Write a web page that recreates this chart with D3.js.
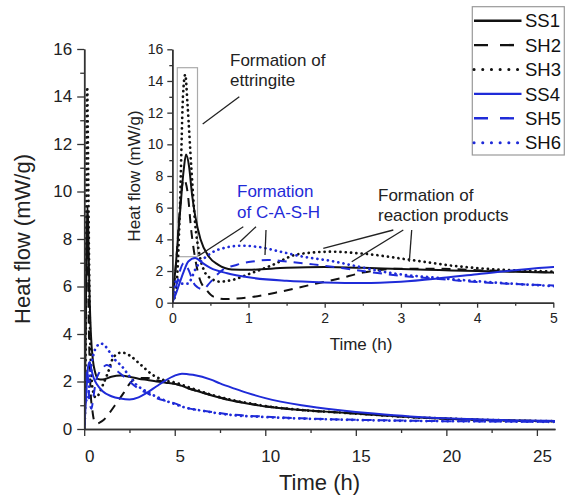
<!DOCTYPE html>
<html><head><meta charset="utf-8">
<script src="https://cdn.jsdelivr.net/npm/d3@7"></script>
<style>
body{margin:0;background:#fff}
svg{display:block}
text{font-family:"Liberation Sans",Arial,sans-serif}
</style>
</head><body>
<svg id="c" width="565" height="495"></svg>
<script>
// ---------- data ----------
const seriesNames  = ["SS1","SH2","SH3","SS4","SH5","SH6"];
const seriesColors = ["#111111","#111111","#111111","#1f2bd8","#1f2bd8","#1f2bd8"];
const seriesStyles = ["solid","dash","dot","solid","dash","dot"];

const ss1Time = [0,0.05,0.1,0.15,0.18,0.22,0.26,0.3,0.37,0.48,0.6,0.78,1.0,1.5,2.0,2.5,3.0,3.5,4.0,4.5,5.0,6,7,8,9,10,12,14,16,18,20,22,24,26];
const ss1Flow = [0,2.6,5.6,8.4,9.35,8.6,6.8,5.5,4.0,2.9,2.4,2.1,2.08,2.2,2.25,2.2,2.12,2.06,2.0,1.95,1.9,1.65,1.42,1.22,1.07,0.95,0.8,0.7,0.6,0.5,0.43,0.38,0.35,0.33];

const sh2Time = [0,0.05,0.1,0.15,0.2,0.25,0.3,0.36,0.45,0.54,0.7,0.85,1.07,1.42,1.81,2.2,2.5,3.0,3.5,4.0,4.5,5.0,6,7,8,9,10,12,14,16,18,20,22,24,26];
const sh2Flow = [0,2.5,6.0,7.8,7.0,4.5,2.8,1.5,0.8,0.38,0.23,0.27,0.38,0.7,1.12,1.54,1.9,2.15,2.15,2.05,1.98,1.9,1.65,1.43,1.23,1.08,0.96,0.8,0.69,0.6,0.5,0.43,0.38,0.35,0.33];

const sh3Time = [0,0.05,0.1,0.14,0.17,0.2,0.25,0.3,0.35,0.42,0.5,0.63,0.8,1.0,1.3,1.64,2.07,2.5,3.1,3.8,4.4,5.0,6,7,8,9,10,12,14,16,18,20,22,24,26];
const sh3Flow = [0,0.8,6.0,13.0,14.4,12.5,8.5,5.0,3.2,2.0,1.55,1.33,1.45,1.8,2.35,3.05,3.22,3.1,2.72,2.27,2.06,1.96,1.7,1.45,1.25,1.1,0.97,0.8,0.7,0.6,0.5,0.44,0.39,0.35,0.33];

const ss4Time = [0,0.05,0.1,0.15,0.21,0.3,0.4,0.5,0.72,1.0,1.5,2.0,2.5,3.0,3.5,4.0,4.5,5.0,5.4,6,7,7.5,8.3,9,10,12,14,15,16,18,20,22,24,26];
const ss4Flow = [0,0.6,1.3,1.96,2.6,2.82,2.5,2.2,1.86,1.6,1.38,1.28,1.24,1.33,1.54,1.8,2.05,2.25,2.33,2.28,2.08,1.92,1.7,1.52,1.3,1.0,0.8,0.72,0.65,0.53,0.45,0.4,0.36,0.34];

const sh5Time = [0,0.05,0.1,0.15,0.2,0.3,0.4,0.5,0.63,0.85,1.05,1.25,1.5,1.85,2.25,2.5,3.0,3.5,4.0,4.5,5.0,5.6,6.5,7.4,8,10,12,15,18,20,22,24,26];
const sh5Flow = [0,1.0,2.0,2.5,2.2,1.1,0.85,1.3,1.96,2.4,2.6,2.7,2.6,2.42,2.17,2.0,1.7,1.5,1.3,1.18,1.08,0.9,0.78,0.68,0.62,0.52,0.45,0.39,0.35,0.33,0.32,0.31,0.3];

const sh6Time = [0,0.06,0.12,0.2,0.32,0.5,0.72,0.91,1.13,1.42,1.72,2.07,2.42,2.9,3.4,3.8,4.4,5.0,5.6,6.5,7.4,8,10,12,15,18,20,22,24,26];
const sh6Flow = [0,1.5,1.2,1.2,2.27,3.1,3.5,3.6,3.52,3.22,2.9,2.65,2.3,1.85,1.6,1.43,1.22,1.05,0.9,0.77,0.66,0.6,0.5,0.44,0.38,0.34,0.33,0.32,0.31,0.3];

const seriesTimes = [ss1Time,sh2Time,sh3Time,ss4Time,sh5Time,sh6Time];
const seriesFlows = [ss1Flow,sh2Flow,sh3Flow,ss4Flow,sh5Flow,sh6Flow];

const mainXTicks = [0,5,10,15,20,25];
const mainXMinor = [2.5,7.5,12.5,17.5,22.5];
const mainYTicks = [0,2,4,6,8,10,12,14,16];
const mainYMinor = [1,3,5,7,9,11,13,15];
const insetXTicks = [0,1,2,3,4,5];
const insetXMinor = [0.5,1.5,2.5,3.5,4.5];
const insetYTicks = [0,2,4,6,8,10,12,14,16];
const insetYMinor = [1,3,5,7,9,11,13,15];

const annotations = [
  {lines:["Formation of","ettringite"], color:"#222", x:230, y:65.7},
  {lines:["Formation","of C-A-S-H"], color:"#1f2bd8", x:237, y:197.3},
  {lines:["Formation of","reaction products"], color:"#222", x:378, y:200.5}
];

// ---------- drawing ----------
const svg = d3.select("#c");
svg.append("rect").attr("width",565).attr("height",495).attr("fill","#fff");

const dashFor = s => s==="dash" ? "9,7" : (s==="dot" ? "0.1,5.2" : null);
const widthFor = s => s==="dot" ? 2.7 : 2;

const defs = svg.append("defs");
defs.append("clipPath").attr("id","mainClip").append("rect").attr("x",84).attr("y",30).attr("width",472).attr("height",400);
defs.append("clipPath").attr("id","insetClip").append("rect").attr("x",172).attr("y",30).attr("width",382).attr("height",273.5);

function drawAxes(g, x, y, opt){
  const ax = g.append("g").attr("transform",`translate(0,${y.range()[0]})`);
  ax.call(d3.axisBottom(x).tickValues(opt.xTicks).tickSize(opt.major).tickSizeOuter(0).tickPadding(opt.xPad).tickFormat(d3.format("d")));
  ax.append("g").call(d3.axisBottom(x).tickValues(opt.xMinor).tickSize(opt.minor).tickSizeOuter(0).tickFormat(""));
  ax.selectAll("text").attr("font-size",opt.fs).attr("fill","#222").attr("dx",opt.xdx||0);
  const ay = g.append("g").attr("transform",`translate(${x.range()[0]},0)`);
  ay.call(d3.axisLeft(y).tickValues(opt.yTicks).tickSize(opt.major).tickSizeOuter(0).tickPadding(opt.yPad));
  ay.append("g").call(d3.axisLeft(y).tickValues(opt.yMinor).tickSize(opt.minor).tickSizeOuter(0).tickFormat(""));
  ay.selectAll("text").attr("font-size",opt.fs).attr("fill","#222");
  g.selectAll(".domain").attr("stroke","#333").attr("stroke-width",1.5);
  g.selectAll(".tick line").attr("stroke","#333").attr("stroke-width",1.3);
}

function drawSeries(g, x, y, clip){
  const line = d3.line().x(d=>x(d[0])).y(d=>y(d[1])).curve(d3.curveMonotoneX);
  const gg = g.append("g").attr("clip-path",`url(#${clip})`);
  seriesNames.forEach((n,i)=>{
    const pts = seriesTimes[i].map((t,j)=>[t,seriesFlows[i][j]]);
    gg.append("path").attr("d",line(pts)).attr("fill","none")
      .attr("stroke",seriesColors[i]).attr("stroke-width",widthFor(seriesStyles[i]))
      .attr("stroke-dasharray",dashFor(seriesStyles[i]))
      .attr("stroke-linecap",seriesStyles[i]==="dot"?"round":"butt")
      .attr("stroke-linejoin","round");
  });
}

// main chart
const xM = d3.scaleLinear().domain([0,26]).range([84.2,555]);
const yM = d3.scaleLinear().domain([0,16]).range([429,49]);
const gMain = svg.append("g");
drawSeries(gMain,xM,yM,"mainClip");
drawAxes(gMain,xM,yM,{xTicks:mainXTicks,xMinor:mainXMinor,yTicks:mainYTicks,yMinor:mainYMinor,major:7,minor:4,xPad:14,yPad:5,fs:17,xdx:5});
gMain.append("text").attr("x",319.5).attr("y",490).attr("text-anchor","middle").attr("font-size",22).attr("fill","#222").text("Time (h)");
gMain.append("text").attr("transform","translate(30,239) rotate(-90)").attr("text-anchor","middle").attr("font-size",22).attr("fill","#222").text("Heat flow (mW/g)");

// inset chart
const xI = d3.scaleLinear().domain([0,5]).range([172.3,553.3]);
const yI = d3.scaleLinear().domain([0,16]).range([302.7,49.3]);
const gIn = svg.append("g");
gIn.append("rect").attr("x",xI(0)+0.5*0).attr("y",0).attr("width",0).attr("height",0);
// highlight rectangle around the ettringite peak
gIn.append("rect").attr("x",177.3).attr("y",67.7).attr("width",20.2).attr("height",189)
  .attr("fill","none").attr("stroke","#aaa").attr("stroke-width",1.2);
drawSeries(gIn,xI,yI,"insetClip");
drawAxes(gIn,xI,yI,{xTicks:insetXTicks,xMinor:insetXMinor,yTicks:insetYTicks,yMinor:insetYMinor,major:5,minor:3,xPad:5.5,yPad:4,fs:14});
gIn.append("text").attr("x",361).attr("y",350).attr("text-anchor","middle").attr("font-size",17).attr("fill","#222").text("Time (h)");
gIn.append("text").attr("transform","translate(139.5,176) rotate(-90)").attr("text-anchor","middle").attr("font-size",17).attr("fill","#222").text("Heat flow (mW/g)");

// annotations
annotations.forEach(a=>{
  const t = svg.append("text").attr("font-size",17).attr("fill",a.color);
  a.lines.forEach((l,k)=>t.append("tspan").attr("x",a.x).attr("y",a.y+k*20.5).text(l));
});
const pointerLines = [
  [202.7,124,239.3,96.7],
  [243.3,226.7,198.3,256],[256,226.7,240,241.7],[266,230,265,255],
  [393.3,230,323.3,248.3],[403.3,230,351.7,261.7],[411.7,230,409.3,261.7]
];
svg.append("g").selectAll("line").data(pointerLines).join("line")
  .attr("x1",d=>d[0]).attr("y1",d=>d[1]).attr("x2",d=>d[2]).attr("y2",d=>d[3])
  .attr("stroke","#222").attr("stroke-width",1.3);

// legend
const lg = svg.append("g");
lg.append("rect").attr("x",472.3).attr("y",6.7).attr("width",92).attr("height",148.3)
  .attr("fill","#fff").attr("stroke","#999").attr("stroke-width",1.2);
seriesNames.forEach((n,i)=>{
  const yy = 20.7 + i*24.4;
  lg.append("line").attr("x1",474).attr("x2",521.5).attr("y1",yy).attr("y2",yy)
    .attr("stroke",seriesColors[i]).attr("stroke-width",seriesStyles[i]==="dot"?3:2.4)
    .attr("stroke-dasharray",seriesStyles[i]==="dash"?"14,12":(seriesStyles[i]==="dot"?"0.1,8.6":null))
    .attr("stroke-linecap",seriesStyles[i]==="dot"?"round":"butt");
  lg.append("text").attr("x",525).attr("y",yy+6.6).attr("font-size",18.5).attr("fill","#111").text(n);
});
</script>
</body></html>
